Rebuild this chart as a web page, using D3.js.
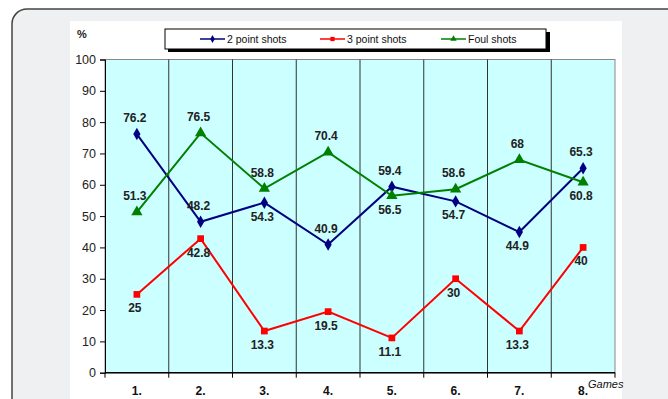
<!DOCTYPE html>
<html>
<head>
<meta charset="utf-8">
<script src="https://cdn.jsdelivr.net/npm/d3@7"></script>
<style>
  body { margin: 0; background: #fff; }
  svg { display: block; font-family: "Liberation Sans", Arial, sans-serif; }
</style>
</head>
<body>
<svg width="668" height="399"></svg>
<script>
// data
var games = ["1.", "2.", "3.", "4.", "5.", "6.", "7.", "8."];
var twoPoint = [76.2, 48.2, 54.3, 40.9, 59.4, 54.7, 44.9, 65.3];
var threePoint = [25, 42.8, 13.3, 19.5, 11.1, 30, 13.3, 40];
var foulShots = [51.3, 76.5, 58.8, 70.4, 56.5, 58.6, 68, 60.8];
var yTicks = [0, 10, 20, 30, 40, 50, 60, 70, 80, 90, 100];
// label above (1) or below (-1) the point
var twoPos = [1, 1, -1, 1, 1, -1, -1, 1];
var threePos = [-1, -1, -1, -1, -1, -1, -1, -1];
var foulPos = [1, 1, 1, 1, -1, 1, 1, -1];

var svg = d3.select("svg");

// page frame
svg.append("rect")
    .attr("x", 12).attr("y", 9)
    .attr("width", 700).attr("height", 430)
    .attr("rx", 15)
    .attr("fill", "#eff0f2")
    .attr("stroke", "#444")
    .attr("stroke-width", 1.5);

// white chart area
svg.append("rect")
    .attr("x", 70).attr("y", 21)
    .attr("width", 552).attr("height", 400)
    .attr("fill", "#fff");

var x0 = 105, x1 = 615, yTop = 59.5, yBot = 372.7;

var x = d3.scaleBand().domain(games).range([x0, x1]);
var y = d3.scaleLinear().domain([0, 100]).range([yBot, yTop]);
var cx = function (i) { return x(games[i]) + x.bandwidth() / 2; };

// plot background
svg.append("rect")
    .attr("x", x0).attr("y", yTop)
    .attr("width", x1 - x0).attr("height", yBot - yTop)
    .attr("fill", "#ccffff")
    .attr("stroke", "#888")
    .attr("stroke-width", 1);

// vertical grid lines
svg.append("g")
    .selectAll("line")
    .data(games.slice(1))
    .enter().append("line")
        .attr("x1", function (d) { return x(d); })
        .attr("x2", function (d) { return x(d); })
        .attr("y1", yTop).attr("y2", yBot)
        .attr("stroke", "#333")
        .attr("stroke-width", 1);

// y axis
var yAxis = svg.append("g")
    .attr("transform", "translate(" + x0 + ",0)")
    .call(d3.axisLeft(y).tickValues(yTicks).tickSize(5).tickPadding(4));
yAxis.select(".domain").attr("stroke", "#000");
yAxis.selectAll(".tick line").attr("stroke", "#000");
yAxis.selectAll("text")
    .attr("font-size", 12.5)
    .attr("fill", "#222")
    .attr("font-family", "Liberation Sans, Arial, sans-serif");

// x axis (ticks at category boundaries)
var xb = svg.append("g").attr("transform", "translate(0," + yBot + ")");
xb.append("line")
    .attr("x1", x0).attr("x2", x1)
    .attr("stroke", "#000").attr("stroke-width", 1.5);
xb.selectAll("line.tk")
    .data(games.concat(["end"]))
    .enter().append("line")
        .attr("class", "tk")
        .attr("x1", function (d, i) { return x0 + i * x.bandwidth(); })
        .attr("x2", function (d, i) { return x0 + i * x.bandwidth(); })
        .attr("y1", 0).attr("y2", 5)
        .attr("stroke", "#000");
xb.selectAll("text")
    .data(games)
    .enter().append("text")
        .attr("x", function (d, i) { return cx(i); })
        .attr("y", 22)
        .attr("text-anchor", "middle")
        .attr("font-size", 12)
        .attr("font-weight", "bold")
        .attr("fill", "#111")
        .text(function (d) { return d; });

svg.append("text")
    .attr("x", 588).attr("y", 388)
    .attr("font-size", 11)
    .attr("font-style", "italic")
    .attr("fill", "#111")
    .text("Games");

svg.append("text")
    .attr("x", 77).attr("y", 38)
    .attr("font-size", 11)
    .attr("font-weight", "bold")
    .attr("fill", "#222")
    .text("%");

// series
var series = [
  { name: "2 point shots", values: twoPoint, pos: twoPos, color: "#000080", sym: d3.symbolDiamond, size: 45 },
  { name: "3 point shots", values: threePoint, pos: threePos, color: "#ff0000", sym: d3.symbolSquare, size: 45 },
  { name: "Foul shots", values: foulShots, pos: foulPos, color: "#008000", sym: d3.symbolTriangle, size: 55 }
];

var line = d3.line()
    .x(function (d, i) { return cx(i); })
    .y(function (d) { return y(d); });

series.forEach(function (s) {
  var g = svg.append("g");
  g.append("path")
      .attr("d", line(s.values))
      .attr("fill", "none")
      .attr("stroke", s.color)
      .attr("stroke-width", 2);
  g.selectAll("path.m")
      .data(s.values)
      .enter().append("path")
          .attr("class", "m")
          .attr("d", d3.symbol().type(s.sym).size(s.size))
          .attr("transform", function (d, i) { return "translate(" + cx(i) + "," + y(d) + ")"; })
          .attr("fill", s.color);
  g.selectAll("text")
      .data(s.values)
      .enter().append("text")
          .attr("x", function (d, i) { return cx(i) - 2; })
          .attr("y", function (d, i) { return y(d) + (s.pos[i] > 0 ? -12 : 18); })
          .attr("text-anchor", "middle")
          .attr("font-size", 12)
          .attr("font-weight", "bold")
          .attr("fill", "#222")
          .text(function (d) { return d; });
});

// legend
var lg = svg.append("g");
lg.append("rect")
    .attr("x", 168).attr("y", 32)
    .attr("width", 382).attr("height", 20)
    .attr("fill", "#000");
lg.append("rect")
    .attr("x", 165).attr("y", 29)
    .attr("width", 381).attr("height", 20)
    .attr("fill", "#fff")
    .attr("stroke", "#000")
    .attr("stroke-width", 1);

var legX = [200, 320, 441];
series.forEach(function (s, i) {
  var lx = legX[i];
  lg.append("line")
      .attr("x1", lx).attr("x2", lx + 25)
      .attr("y1", 39).attr("y2", 39)
      .attr("stroke", s.color)
      .attr("stroke-width", 1.5);
  lg.append("path")
      .attr("d", d3.symbol().type(s.sym).size(18))
      .attr("transform", "translate(" + (lx + 12.5) + ",39)")
      .attr("fill", s.color);
  lg.append("text")
      .attr("x", lx + 27).attr("y", 43)
      .attr("font-size", 10.5)
      .attr("fill", "#111")
      .text(s.name);
});
</script>
</body>
</html>
